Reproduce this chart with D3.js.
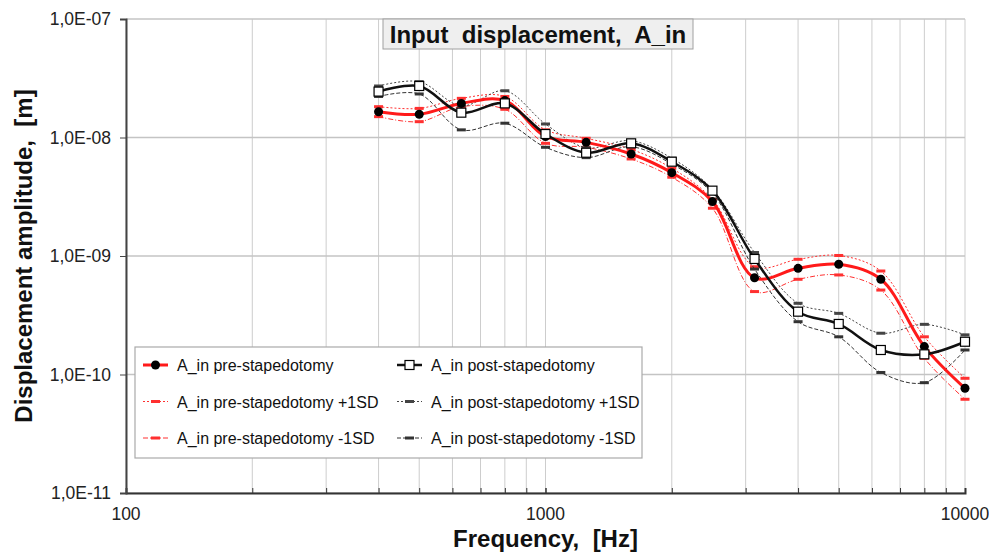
<!DOCTYPE html>
<html>
<head>
<meta charset="utf-8">
<script src="https://cdn.jsdelivr.net/npm/d3@7"></script>
<style>
  body { margin: 0; background: #fff; }
  svg { font-family: "Liberation Sans", Arial, sans-serif; }
  text { white-space: pre; }
  .tickText { font-size: 17.5px; fill: #222; }
  .axisTitle { font-size: 24px; font-weight: bold; fill: #111; }
  .legendText { font-size: 16px; fill: #111; }
</style>
</head>
<body>
<svg id="chart" width="989" height="553"></svg>
<script>
// third-octave frequencies, Hz
const freq = [400, 500, 630, 800, 1000, 1250, 1600, 2000, 2500, 3150, 4000, 5000, 6300, 8000, 10000];

// displacement amplitude, m
const preMean = [1.65e-8, 1.57e-8, 1.94e-8, 2.05e-8, 1.02e-8, 9.1e-9, 7.26e-9, 5.05e-9, 2.88e-9, 6.55e-10, 7.87e-10, 8.51e-10, 6.36e-10, 1.72e-10, 7.65e-11];
const prePlus = [1.82e-8, 1.76e-8, 2.14e-8, 2.22e-8, 1.16e-8, 9.85e-9, 7.95e-9, 5.5e-9, 3.01e-9, 8.12e-10, 9.38e-10, 1.01e-9, 7.47e-10, 2.08e-10, 9.29e-11];
const preMinus = [1.50e-8, 1.36e-8, 1.82e-8, 1.73e-8, 8.93e-9, 8.27e-9, 6.59e-9, 4.62e-9, 2.53e-9, 5.01e-10, 6.36e-10, 6.92e-10, 5.16e-10, 1.37e-10, 6.18e-11];
const postMean = [2.44e-8, 2.72e-8, 1.62e-8, 1.94e-8, 1.07e-8, 7.44e-9, 8.93e-9, 6.25e-9, 3.56e-9, 9.44e-10, 3.39e-10, 2.67e-10, 1.61e-10, 1.48e-10, 1.89e-10];
const postPlus = [2.72e-8, 2.96e-8, 1.85e-8, 2.48e-8, 1.30e-8, 8.2e-9, 9.4e-9, 6.68e-9, 3.66e-9, 1.07e-9, 3.99e-10, 3.28e-10, 2.23e-10, 2.65e-10, 2.16e-10];
const postMinus = [2.22e-8, 2.33e-8, 1.16e-8, 1.32e-8, 8.27e-9, 6.76e-9, 8.36e-9, 5.97e-9, 3.38e-9, 7.76e-10, 2.79e-10, 2.08e-10, 1.04e-10, 8.53e-11, 1.61e-10];

const xTicks = [100, 1000, 10000];
const yTicks = [1e-11, 1e-10, 1e-9, 1e-8, 1e-7];
const yTickLabels = ["1,0E-11", "1,0E-10", "1,0E-09", "1,0E-08", "1,0E-07"];

const series = [
  {name: "A_in pre-stapedotomy +1SD", values: prePlus, color: "#ff3030", width: 1, dash: "2,2", marker: "bar"},
  {name: "A_in pre-stapedotomy -1SD", values: preMinus, color: "#ff3030", width: 1, dash: "5,2,1,2", marker: "bar"},
  {name: "A_in post-stapedotomy +1SD", values: postPlus, color: "#444", width: 1, dash: "2,2", marker: "bar"},
  {name: "A_in post-stapedotomy -1SD", values: postMinus, color: "#333", width: 1, dash: "4,2", marker: "bar"},
  {name: "A_in pre-stapedotomy", values: preMean, color: "#ff1a1a", width: 3, dash: null, marker: "dot"},
  {name: "A_in post-stapedotomy", values: postMean, color: "#111", width: 2.5, dash: null, marker: "square"}
];

translate = function(a, b) {
  return "translate(" + a + ", " + b + ")";
}

const margin = {top: 19, right: 24, bottom: 60, left: 126};
const svg = d3.select("#chart");
const width = 989 - margin.left - margin.right;
const height = 553 - margin.top - margin.bottom;

let x = d3.scaleLog().domain([100, 10000]).range([0, width]);
let y = d3.scaleLog().domain([1e-11, 1e-7]).range([height, 0]);

let plot = svg.append("g").attr("transform", translate(margin.left, margin.top));

// grid lines: all decade subdivisions on x, decades on y
let xGrid = [];
for (let d = 100; d < 10000; d *= 10) {
  for (let k = 1; k <= 10; k++) xGrid.push(d * k);
}
plot.append("g").selectAll("line")
  .data(xGrid)
  .enter()
  .append("line")
  .attr("x1", d => x(d)).attr("x2", d => x(d))
  .attr("y1", 0).attr("y2", height)
  .attr("stroke", "#cdcdcd").attr("stroke-width", 1);

plot.append("g").selectAll("line")
  .data(yTicks)
  .enter()
  .append("line")
  .attr("x1", 0).attr("x2", width)
  .attr("y1", d => y(d)).attr("y2", d => y(d))
  .attr("stroke", "#c4c4c4").attr("stroke-width", 1.3);

// axes
let xAxis = d3.axisBottom(x).tickValues(xGrid).tickSize(-5).tickFormat("");
let xGroup = plot.append("g").attr("transform", translate(0, height)).call(xAxis);
xGroup.select(".domain").attr("stroke", "#333").attr("stroke-width", 2);
xGroup.selectAll(".tick line").attr("stroke", "#333");

plot.append("g").selectAll("text")
  .data(xTicks)
  .enter()
  .append("text")
  .attr("class", "tickText")
  .attr("x", d => x(d))
  .attr("y", height + 27)
  .attr("text-anchor", "middle")
  .text(d => d);

let yAxis = d3.axisLeft(y).tickValues(yTicks).tickSize(6).tickFormat("");
let yGroup = plot.append("g").call(yAxis);
yGroup.select(".domain").attr("stroke", "#444").attr("stroke-width", 2);
yGroup.selectAll(".tick line").attr("stroke", "#444");

plot.append("g").selectAll("text")
  .data(yTicks)
  .enter()
  .append("text")
  .attr("class", "tickText")
  .attr("x", -15)
  .attr("y", d => y(d) + 6)
  .attr("text-anchor", "end")
  .text((d, i) => yTickLabels[i]);

// axis titles
svg.append("text")
  .attr("class", "axisTitle")
  .attr("text-anchor", "middle")
  .attr("transform", translate(32, 256) + " rotate(-90)")
  .text("Displacement amplitude,  [m]");

svg.append("text")
  .attr("class", "axisTitle")
  .attr("text-anchor", "middle")
  .attr("x", margin.left + x(1000))
  .attr("y", 547)
  .text("Frequency,  [Hz]");

// lines
let line = d3.line()
  .x((d, i) => x(freq[i]))
  .y(d => y(d))
  .curve(d3.curveCatmullRom.alpha(0.5));

drawMarker = function(g, type, color, cx, cy) {
  if (type == "dot") {
    g.append("circle").attr("cx", cx).attr("cy", cy).attr("r", 4.5).attr("fill", "#000");
  } else if (type == "square") {
    g.append("rect").attr("x", cx - 4.5).attr("y", cy - 4.5).attr("width", 9).attr("height", 9)
      .attr("fill", "#fff").attr("stroke", "#000").attr("stroke-width", 1.2);
  } else {
    g.append("rect").attr("x", cx - 4.5).attr("y", cy - 1.5).attr("width", 9).attr("height", 3)
      .attr("fill", color);
  }
}

series.forEach(function(s) {
  let g = plot.append("g");
  g.append("path")
    .attr("d", line(s.values))
    .attr("fill", "none")
    .attr("stroke", s.color)
    .attr("stroke-width", s.width)
    .attr("stroke-dasharray", s.dash);
  s.values.forEach((v, i) => drawMarker(g, s.marker, s.color, x(freq[i]), y(v)));
});

// title box
let tb = svg.append("g");
tb.append("rect")
  .attr("x", 383).attr("y", 19).attr("width", 310).attr("height", 30)
  .attr("fill", "#efefef").attr("stroke", "#a0a0a0");
tb.append("text")
  .attr("class", "axisTitle")
  .attr("x", 538).attr("y", 43)
  .attr("text-anchor", "middle")
  .text("Input  displacement,  A_in");

// legend
let legendOrder = [4, 5, 0, 2, 1, 3];
let legend = svg.append("g").attr("transform", translate(135, 347));
legend.append("rect")
  .attr("width", 507).attr("height", 111)
  .attr("fill", "#fff").attr("stroke", "#aaa").attr("stroke-width", 1.2);

legendOrder.forEach(function(idx, k) {
  let s = series[idx];
  let col = k % 2;
  let row = Math.floor(k / 2);
  let lx = col == 0 ? 8 : 262;
  let ly = 18 + row * 36.5;
  let g = legend.append("g");
  g.append("line")
    .attr("x1", lx).attr("x2", lx + 25)
    .attr("y1", ly).attr("y2", ly)
    .attr("stroke", s.color)
    .attr("stroke-width", s.width)
    .attr("stroke-dasharray", s.dash);
  drawMarker(g, s.marker, s.color, lx + 12.5, ly);
  g.append("text")
    .attr("class", "legendText")
    .attr("x", lx + 34)
    .attr("y", ly + 6)
    .text(s.name);
});
</script>
</body>
</html>
